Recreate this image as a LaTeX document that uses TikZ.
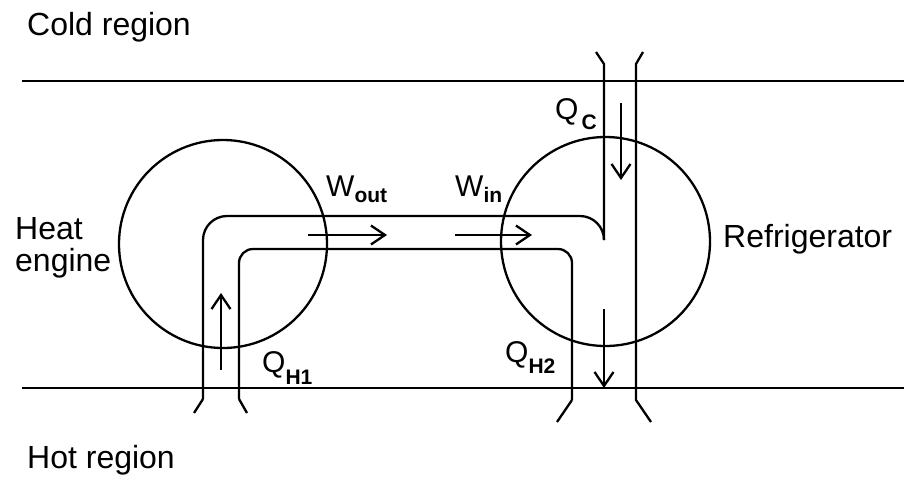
\documentclass[tikz,border=0pt]{standalone}
\usepackage{fontspec}
\setmainfont{Liberation Sans}
\usetikzlibrary{arrows.meta}
\newcommand{\bigtext}{\fontsize{32}{32}\selectfont}
\newcommand{\lbltext}{\fontsize{30}{32}\selectfont}
\newcommand{\subx}[2]{\raisebox{-#1pt}{\fontsize{21}{22}\selectfont\bfseries #2}}
\tikzset{
  wall/.style={line width=2.3pt},
  pipe/.style={line width=2.3pt},
  flow/.style={line width=2.3pt,->},
  region/.style={font=\bigtext,inner sep=0pt,anchor=base west},
  qty/.style={font=\lbltext,inner sep=0pt,anchor=base west},
  device/.style={circle,draw,line width=2.3pt,inner sep=0pt},
}
\begin{document}
\begin{tikzpicture}[x=1pt,y=-1pt,>={Straight Barb[length=14pt,width=19pt]}]
\useasboundingbox (0,0) rectangle (904,480);
\draw[wall] (22,81) -- (904,81);
\draw[wall] (22,388) -- (904,388);
\node[region] (cold) at (27,35) {Cold region};
\node[region] (hot) at (27,468) {Hot region};
\node[region,align=left,anchor=north west] (heatlbl) at (15,217) {Heat\\engine};
\node[region] (fridgelbl) at (723,247) {Refrigerator};
\node[device,minimum size=208pt] (engine) at (223,244) {};
\node[device,minimum size=209pt] (fridge) at (605.5,241.5) {};
\draw[pipe] (194,413) -- (203,399);
\draw[pipe,rounded corners=24pt] (203,399) -- (203,216) -- (604,216) -- (604,240);
\draw[pipe] (247,413) -- (239,399);
\draw[pipe,rounded corners=14pt] (239,399) -- (239,249) -- (572,249) -- (572,400);
\draw[pipe] (572,400) -- (557,422);
\draw[pipe] (596,52) -- (604,64) -- (604,240);
\draw[pipe] (643,52) -- (636,64) -- (636,400) -- (651,422);
\draw[flow] (221,370) -- (221,293);
\draw[flow] (308,235) -- (387,235);
\draw[flow] (455,235) -- (532,235);
\draw[flow] (621,103) -- (621,180);
\draw[flow] (604,309) -- (604,388);
\node[qty] (qc) at (555,119) {Q\kern3pt\subx{10}{C}};
\node[qty] (wout) at (326,196) {W\subx{6}{out}};
\node[qty] (win) at (455,196) {W\subx{6}{in}};
\node[qty] (qh1) at (262,372) {Q\subx{12}{H1}};
\node[qty] (qh2) at (505,362) {Q\subx{11}{H2}};
\end{tikzpicture}
\end{document}
